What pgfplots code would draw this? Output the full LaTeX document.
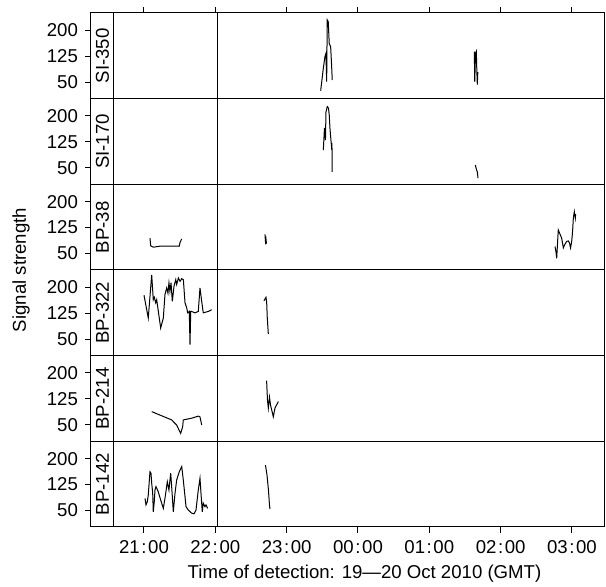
\documentclass[border=0pt]{standalone}
\usepackage{fontspec}
\setmainfont{Liberation Sans}
\usepackage{pgfplots}
\pgfplotsset{compat=1.18}

\newcommand{\lbl}{\fontsize{9.3}{11}\selectfont}
\newcommand{\hm}[1]{#1\hspace{0.8pt}:\hspace{0.8pt}00}
\newcommand{\panelextras}[1]{%
  \draw[line width=0.5pt] (axis cs:20.579,2) -- (axis cs:20.579,250);
  \draw[line width=0.5pt] (axis cs:22.037,2) -- (axis cs:22.037,250);
  \node[rotate=90,font=\lbl,inner sep=0pt] at (axis cs:20.418,126) {#1};}

\pgfplotsset{
  panel/.style={
    at={(45.5pt,-#1pt)}, anchor=north west,
    scale only axis, width=257pt, height=42.833pt,
    xmin=20.257, xmax=27.463, ymin=2, ymax=250,
    ytick={50,125,200}, xtick={21,22,...,27},
    ytick pos=left, tick align=outside, major tick length=3pt,
    axis line style={line width=0.5pt},
    every tick/.style={black,line width=0.5pt},
    tick label style={font=\lbl},
    /pgf/number format/assume math mode=true,
    yticklabel style={anchor=east},
  },
  trace/.style={black, line width=0.5pt, mark=none},
}

\begin{document}
\begin{tikzpicture}
\useasboundingbox (0,0) rectangle (303pt,-293.5pt);

% SI-350
\begin{axis}[panel=6.5, xtick pos=right, xticklabels={}]
\addplot[trace] coordinates {(23.477,25) (23.514,90) (23.537,124) (23.551,133) (23.561,51) (23.569,230) (23.583,225) (23.597,162) (23.617,152) (23.631,95) (23.639,56)};
\addplot[trace] coordinates {(25.631,138) (25.637,51) (25.648,134) (25.659,139) (25.666,85) (25.673,43) (25.680,79)};
\panelextras{SI-350}
\end{axis}

% SI-170
\begin{axis}[panel=49.333, xtick=\empty]
\addplot[trace] coordinates {(23.514,101) (23.530,165) (23.544,130) (23.551,211) (23.569,227) (23.586,223) (23.597,203) (23.607,165) (23.617,139) (23.628,113) (23.635,122) (23.639,38)};
\addplot[trace] coordinates {(25.645,58) (25.662,44) (25.673,38) (25.683,20)};
\panelextras{SI-170}
\end{axis}

% BP-38
\begin{axis}[panel=92.167, xtick=\empty]
\addplot[trace] coordinates {(21.084,94) (21.094,72) (21.130,68) (21.224,71) (21.495,71) (21.505,82) (21.529,92)};
\addplot[trace] coordinates {(22.696,105) (22.703,85) (22.710,92) (22.717,78)};
\addplot[trace] coordinates {(26.762,70) (26.776,54) (26.786,36) (26.808,118) (26.832,106) (26.856,94) (26.879,66) (26.895,74) (26.926,85) (26.949,86) (26.966,80) (26.980,66) (26.996,84) (27.010,118) (27.019,152) (27.033,171) (27.047,152) (27.052,164)};
\panelextras{BP-38}
\end{axis}

% BP-322
\begin{axis}[panel=135, xtick=\empty]
\addplot[trace] coordinates {(21.000,177) (21.060,111) (21.108,236) (21.130,164) (21.144,171) (21.164,155) (21.178,164) (21.234,82) (21.271,111) (21.294,179) (21.318,198) (21.336,183) (21.350,213) (21.364,188) (21.379,213) (21.397,159) (21.421,203) (21.445,222) (21.458,208) (21.482,227) (21.505,217) (21.529,225) (21.552,222) (21.575,155) (21.599,140) (21.613,126) (21.635,130) (21.645,34) (21.655,130) (21.668,130) (21.715,126) (21.761,130) (21.785,198) (21.809,159) (21.831,126) (21.901,130) (21.949,135)};
\addplot[trace] coordinates {(22.682,161) (22.710,171) (22.720,156) (22.728,113) (22.743,65)};
\panelextras{BP-322}
\end{axis}

% BP-214
\begin{axis}[panel=177.833, xtick=\empty]
\addplot[trace] coordinates {(21.108,88) (21.224,78) (21.388,64) (21.458,49) (21.514,25) (21.542,44) (21.551,64) (21.669,69) (21.761,75) (21.785,73) (21.809,49)};
\addplot[trace] coordinates {(22.719,178) (22.731,122) (22.743,98) (22.759,130) (22.774,107) (22.813,73) (22.837,99) (22.884,117)};
\panelextras{BP-214}
\end{axis}

% BP-142
\begin{axis}[panel=220.667, xtick pos=left,
  xticklabels={\hm{21},\hm{22},\hm{23},\hm{00},\hm{01},\hm{02},\hm{03}}]
\addplot[trace] coordinates {(21.014,85) (21.028,66) (21.046,75) (21.060,95) (21.084,162) (21.098,158) (21.108,129) (21.122,100) (21.130,46) (21.144,75) (21.154,109) (21.168,119) (21.200,104) (21.234,80) (21.271,56) (21.294,85) (21.327,133) (21.350,109) (21.374,158) (21.388,119) (21.411,46) (21.435,100) (21.458,138) (21.495,162) (21.529,177) (21.551,138) (21.575,90) (21.589,61) (21.621,51) (21.669,42) (21.701,40) (21.729,51) (21.761,109) (21.785,143) (21.799,100) (21.817,46) (21.831,71) (21.855,61) (21.869,66) (21.893,56)};
\addplot[trace] coordinates {(22.703,181) (22.724,153) (22.745,109) (22.759,66) (22.766,54)};
\panelextras{BP-142}
\end{axis}

\node[rotate=90,font=\lbl] at (10.5pt,-135pt) {Signal strength};
\node[font=\lbl,anchor=base] at (182.25pt,-289.5pt) {Time of detection: 19—20 Oct 2010 (GMT)};
\end{tikzpicture}
\end{document}
